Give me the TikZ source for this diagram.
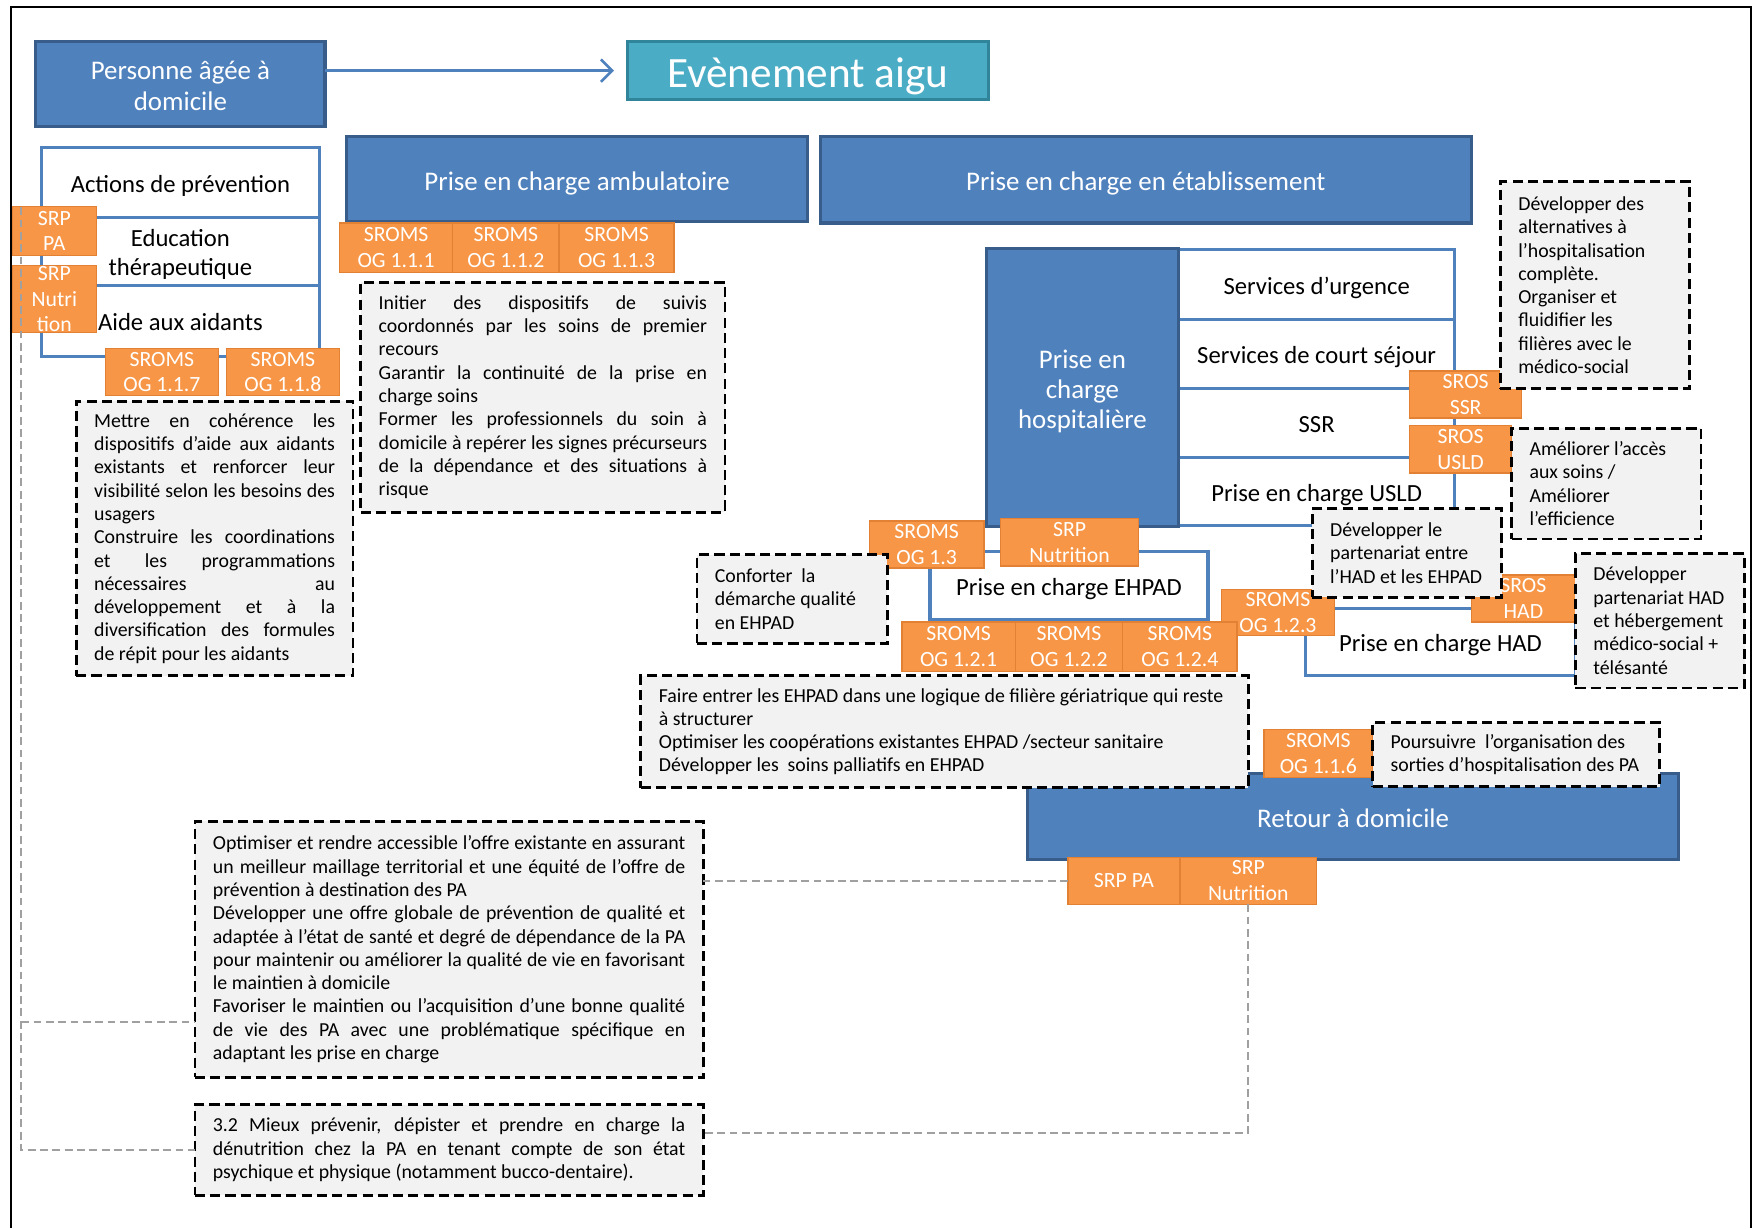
\documentclass[tikz,border=0pt]{standalone}
\usepackage{fontspec}
\setmainfont{Carlito}
\usetikzlibrary{arrows.meta}
\setlength\parindent{0pt}

\definecolor{bfill}{RGB}{79,129,189}
\definecolor{bline}{RGB}{56,93,138}
\definecolor{tfill}{RGB}{75,172,198}
\definecolor{tline}{RGB}{49,133,155}
\definecolor{ofill}{RGB}{247,150,70}
\definecolor{oline}{RGB}{226,128,52}
\definecolor{gfill}{RGB}{242,242,242}
\definecolor{cgray}{RGB}{160,160,160}

% fully justified line of a note
\newcommand\jl[1]{\makebox[\hsize][s]{\spaceskip=0pt\xspaceskip=0pt #1}}
% line-box strut (ascent and descent of a text line)
\newcommand\lstrut{\rule[-0.21em]{0pt}{1.22em}}
% descent-only strut for the last line of a multi-line label
\newcommand\dstrut{\rule[-0.21em]{0pt}{0.21em}}

% box given by its corners (x1,y1) (x2,y2)
\newcommand\bx[7]{%
  \pgfmathsetmacro\bxw{(#5-(#3))*0.5}%
  \pgfmathsetmacro\bxh{(#6-(#4))*0.5}%
  \node[#2, anchor=north west, minimum width=\bxw pt, minimum height=\bxh pt] (#1) at (#3,#4) {#7};}
% note box: same, with a text width
\newcommand\nb[7]{%
  \pgfmathsetmacro\bxw{(#5-(#3))*0.5}%
  \pgfmathsetmacro\bxh{(#6-(#4))*0.5}%
  \pgfmathsetmacro\bxt{(#5-(#3))*0.5-16}%
  \node[#2, anchor=north west, minimum width=\bxw pt, minimum height=\bxh pt, text width=\bxt pt] (#1) at (#3,#4)
    {\spaceskip=0pt\xspaceskip=0pt #7};}

\tikzset{
  base/.style={inner sep=0pt, outer sep=0pt},
  strutted/.style={execute at begin node=\lstrut},
  bluebox/.style={base, strutted, fill=bfill, draw=bline, line width=1.4pt, text=white,
    font=\fontsize{12}{14}\selectfont, align=center},
  cellbox/.style={base, strutted, fill=white, draw=bfill, line width=1.4pt, text=black,
    font=\fontsize{11}{13}\selectfont, align=center},
  tag/.style={base, fill=ofill, draw=oline, line width=0.6pt, text=white,
    font=\fontsize{9.7}{11.5}\selectfont, align=center},
  note/.style={base, fill=gfill, draw=black, line width=1.3pt,
    dash pattern=on 4.5pt off 2.3pt, inner xsep=8pt,
    font=\fontsize{8.85}{10.4}\selectfont, align=left},
  link/.style={draw=cgray, line width=0.9pt, dash pattern=on 3.5pt off 2pt},
}

\begin{document}
\begin{tikzpicture}[x=0.5pt,y=-0.5pt]
\useasboundingbox (0,0) rectangle (1568,1096);
% outer frame
\draw[line width=0.9pt] (10,1096) -- (10,6) -- (1563,6) -- (1563,1096);

% prevention column
\bx{prev}{cellbox}{37}{132}{285}{194}{Actions de prévention}
\bx{edu}{cellbox}{37}{194}{285}{255}{\lstrut Education\\thérapeutique\dstrut}
\bx{aide}{cellbox}{37}{255}{285}{318}{Aide aux aidants}
\bx{srpPA}{tag,font=\fontsize{9.7}{11.2}\selectfont}{11}{184}{86}{228}{SRP\\PA}
\bx{srpNu}{tag,font=\fontsize{9.7}{11.5}\selectfont}{11}{237}{86}{297}{SRP\\Nutri\\tion}
\bx{og117}{tag}{94}{311}{195}{353}{SROMS\\OG 1.1.7}
\bx{og118}{tag}{202}{311}{303}{353}{SROMS\\OG 1.1.8}
\nb{nAide}{note}{68}{358}{315}{603}{%
\jl{Mettre en cohérence les}\\
\jl{dispositifs d'aide aux aidants}\\
\jl{existants et renforcer leur}\\
\jl{visibilité selon les besoins des}\\
usagers\\
\jl{Construire les coordinations}\\
\jl{et les programmations}\\
\jl{nécessaires au}\\
\jl{développement et à la}\\
\jl{diversification des formules}\\
de répit pour les aidants}

% top row
\bx{pers}{bluebox}{32}{37}{290}{113}{\lstrut Personne âgée à\\domicile\dstrut}
\bx{evt}{bluebox,fill=tfill,draw=tline,font=\fontsize{19.3}{22}\selectfont}{560}{37}{882}{89}{Evènement aigu}
\draw[bfill, line width=1.2pt, -{Straight Barb[length=5pt,width=10pt]}, shorten >=6pt]
  (pers.east |- evt.west) -- (evt.west);

% ambulatory care
\bx{amb}{bluebox}{309}{122}{721}{198}{Prise en charge ambulatoire}
\bx{og111}{tag}{303}{199}{404}{243}{SROMS\\OG 1.1.1}
\bx{og112}{tag}{404}{199}{499}{243}{SROMS\\OG 1.1.2}
\bx{og113}{tag}{499}{199}{601.5}{243}{SROMS\\OG 1.1.3}
\nb{nInit}{note}{322}{252}{647}{457}{%
\jl{Initier des dispositifs de suivis}\\
\jl{coordonnés par les soins de premier}\\
recours\\
\jl{Garantir la continuité de la prise en}\\
charge soins\\
\jl{Former les professionnels du soin à}\\
\jl{domicile à repérer les signes précurseurs}\\
\jl{de la dépendance et des situations à}\\
risque}

% institutional care
\bx{etab}{bluebox}{732}{122}{1313}{199}{Prise en charge en établissement}
\bx{urg}{cellbox}{1052}{223}{1298}{285}{Services d’urgence}
\bx{court}{cellbox}{1052}{285}{1298}{347}{Services de court séjour}
\bx{ssr}{cellbox}{1052}{347}{1298}{408}{SSR}
\bx{usld}{cellbox}{1052}{408}{1298}{469}{Prise en charge USLD}
\bx{hosp}{bluebox,font=\fontsize{12}{13.5}\selectfont}{880}{222}{1052}{470}{\lstrut Prise en\\charge\\hospitalière\dstrut}
\bx{sSSR}{tag}{1258}{331}{1358}{373}{SROS\\SSR}
\bx{sUSLD}{tag}{1258}{380}{1349}{422}{SROS\\USLD}
\nb{nAlt}{note}{1339}{162}{1508}{347}{%
Développer des\\ alternatives à\\ l’hospitalisation\\ complète.\\
Organiser et\\ fluidifier les\\ filières avec le\\ médico-social}
\nb{nAme}{note}{1349}{382}{1518}{481}{%
Améliorer l’accès\\ aux soins /\\ Améliorer\\ l’efficience}

% home hospitalisation
\bx{had}{cellbox}{1165}{543}{1406}{603}{Prise en charge HAD}
\bx{sHAD}{tag}{1313}{513}{1406}{555}{SROS\\HAD}
\nb{nHADp}{note}{1406}{494}{1557}{614}{%
Développer\\ \mbox{partenariat HAD}\\ et hébergement\\ \mbox{médico-social +}\\ télésanté}

% nursing homes
\bx{ehpad}{cellbox}{830}{492}{1078}{553}{Prise en charge EHPAD}
\bx{og13}{tag}{776}{465}{878}{507}{SROMS\\OG 1.3}
\bx{srpNuE}{tag}{893}{463}{1016}{505}{SRP\\Nutrition}
\nb{nConf}{note}{622}{495}{792}{574}{%
Conforter\ \ la\\ démarche qualité\\ en EHPAD}
\bx{og121}{tag}{805}{555}{906}{599}{SROMS\\OG 1.2.1}
\bx{og122}{tag}{906}{555}{1002}{599}{SROMS\\OG 1.2.2}
\bx{og123}{tag}{1090}{526}{1191}{567}{SROMS\\OG 1.2.3}
\bx{og124}{tag}{1002}{555}{1104}{599}{SROMS\\OG 1.2.4}
\nb{nPart}{note}{1171}{454}{1340}{533}{%
Développer le\\ partenariat entre\\ \mbox{l’HAD et les EHPAD}}

% return home
\bx{ret}{bluebox}{917}{690}{1498}{767}{Retour à domicile}
\nb{nFaire}{note}{572}{603}{1114}{703}{%
\mbox{Faire entrer les EHPAD dans une logique de filière gériatrique qui reste}\\
à structurer\\
Optimiser les coopérations existantes EHPAD /secteur sanitaire\\
Développer les\ \ soins palliatifs en EHPAD}
\bx{og116}{tag}{1128}{651}{1225}{694}{SROMS\\OG 1.1.6}
\nb{nPours}{note}{1225}{645}{1481}{702}{%
\mbox{Poursuivre\ \ l’organisation des}\\ \mbox{sorties d’hospitalisation des PA}}
\bx{srpPAb}{tag}{953}{765}{1053}{807}{SRP PA}
\bx{srpNb}{tag}{1053}{765}{1175}{807}{SRP\\Nutrition}

% prevention programme notes
\nb{nOpt}{note}{174}{733}{627.5}{961.5}{%
\jl{Optimiser et rendre accessible l’offre existante en assurant}\\
\jl{un meilleur maillage territorial et une équité de l’offre de}\\
prévention à destination des PA\\
\jl{Développer une offre globale de prévention de qualité et}\\
\jl{adaptée à l’état de santé et degré de dépendance de la PA}\\
\jl{pour maintenir ou améliorer la qualité de vie en favorisant}\\
le maintien à domicile\\
\jl{Favoriser le maintien ou l’acquisition d’une bonne qualité}\\
\jl{de vie des PA avec une problématique spécifique en}\\
adaptant les prise en charge}
\nb{nDen}{note}{174}{986}{627.5}{1066.5}{%
\jl{3.2 Mieux prévenir, dépister et prendre en charge la}\\
\jl{dénutrition chez la PA en tenant compte de son état}\\
psychique et physique (notamment bucco-dentaire).}

% grey dashed links
\coordinate (lt) at (19,185);
\coordinate (lb) at (19,912);
\draw[link] (srpPAb.west) -- (srpPAb.west -| nOpt.east);
\draw[link] (srpNb.south) |- ([yshift=7.6pt]nDen.east);
\draw[link] (lt) |- (nDen.west);
\draw[link] (lb) -- (lb -| nOpt.west);
\end{tikzpicture}
\end{document}
